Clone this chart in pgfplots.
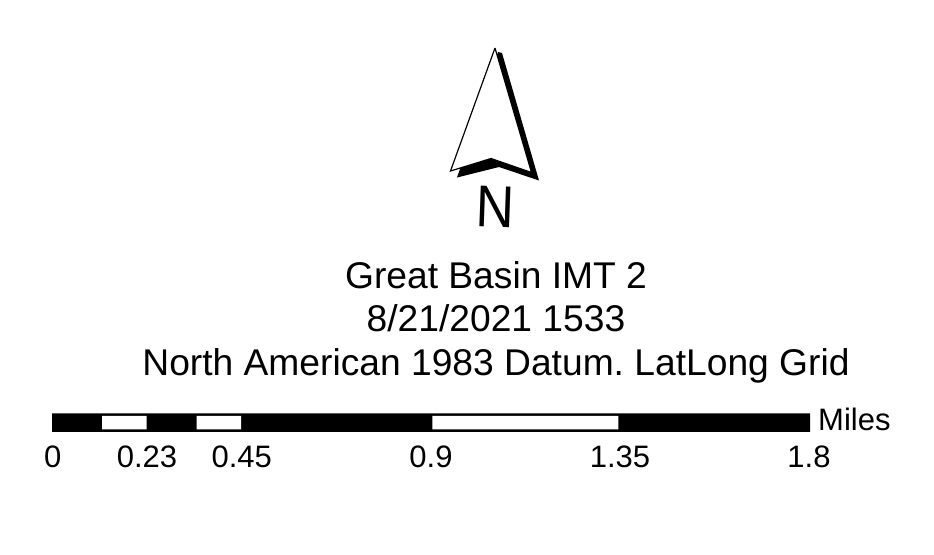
\documentclass[border=0pt]{standalone}
\usepackage{fontspec}
\setmainfont{Liberation Sans}
\usepackage{pgfplots}
\pgfplotsset{compat=1.18}
\frenchspacing
\begin{document}
\begin{tikzpicture}
\begin{axis}[
    scale only axis,
    width=934pt,
    height=554pt,
    xmin=0, xmax=934,
    ymin=0, ymax=554,
    y dir=reverse,
    hide axis,
]
% north arrow: shadow, then the white blade on top
\addplot[fill=black, draw=none] coordinates {
    (498,52) (502,53) (539,180.5) (499,167) (457,177.5) (460,169) (498,52)
};
\addplot[fill=white, draw=black, line width=1.2pt, miter limit=10] coordinates {
    (495,48) (450.5,171) (491,158.5) (531.5,172.5) (495,48)
};
% scale bar
\addplot[fill=black, draw=none] coordinates {(52,413.3) (810,413.3) (810,431.8) (52,431.8) (52,413.3)};
\addplot[fill=white, draw=none] coordinates {(102,415.8) (146.7,415.8) (146.7,429.3) (102,429.3) (102,415.8)};
\addplot[fill=white, draw=none] coordinates {(196.7,415.8) (241,415.8) (241,429.3) (196.7,429.3) (196.7,415.8)};
\addplot[fill=white, draw=none] coordinates {(432.3,415.8) (618.3,415.8) (618.3,429.3) (432.3,429.3) (432.3,415.8)};
% text
\node[anchor=base, rotate=-2, xscale=0.9, font=\fontsize{59}{59}\selectfont] at (axis cs:494.5,227.5) {N};
\node[anchor=base, font=\fontsize{37.2}{37}\selectfont] at (axis cs:496,288) {Great Basin IMT 2};
\node[anchor=base, font=\fontsize{37.2}{37}\selectfont] at (axis cs:496,331.5) {8/21/2021 1533};
\node[anchor=base, font=\fontsize{37.2}{37}\selectfont] at (axis cs:496,375) {North American 1983 Datum. LatLong Grid};
\node[anchor=base west, font=\fontsize{31}{31}\selectfont, inner sep=0pt] at (axis cs:818,430) {Miles};
\node[anchor=base, font=\fontsize{31}{31}\selectfont] at (axis cs:52.7,467.7) {0};
\node[anchor=base, font=\fontsize{31}{31}\selectfont] at (axis cs:147,467.7) {0.23};
\node[anchor=base, font=\fontsize{31}{31}\selectfont] at (axis cs:241.7,467.7) {0.45};
\node[anchor=base, font=\fontsize{31}{31}\selectfont] at (axis cs:431,467.7) {0.9};
\node[anchor=base, font=\fontsize{31}{31}\selectfont] at (axis cs:620,467.7) {1.35};
\node[anchor=base, font=\fontsize{31}{31}\selectfont] at (axis cs:809,467.7) {1.8};
\end{axis}
\useasboundingbox (0,0) rectangle (934pt,554pt);
\end{tikzpicture}
\end{document}
